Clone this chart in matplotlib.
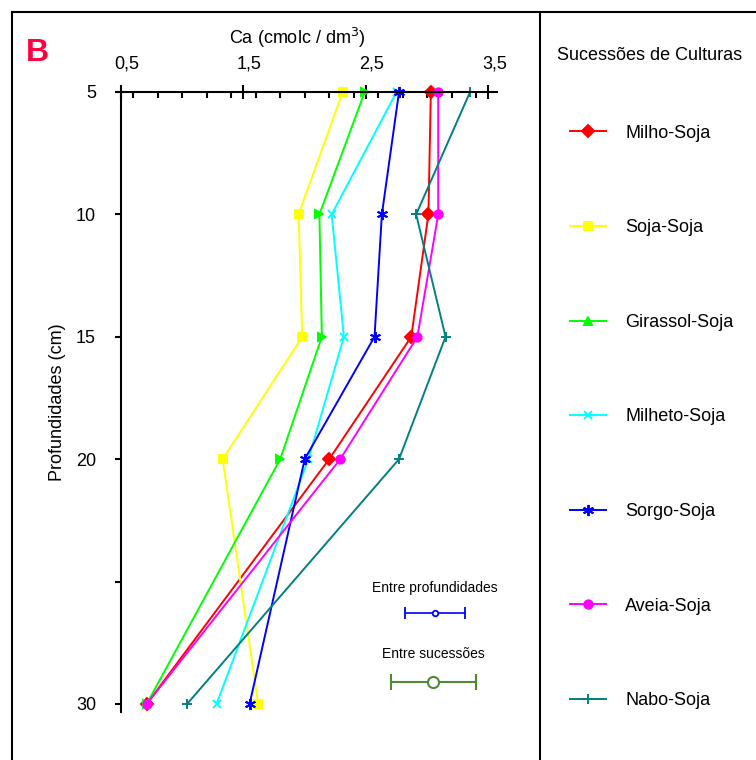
import matplotlib.pyplot as plt
from matplotlib.lines import Line2D
from matplotlib.ticker import MultipleLocator
from matplotlib.transforms import ScaledTranslation

plt.rcParams['font.family'] = ['Liberation Sans', 'DejaVu Sans']

# profundidades (cm)
depth = [5, 10, 15, 20, 30]

# Ca (cmolc / dm3) por sucessao
milho = [3.03, 3.01, 2.87, 2.20, 0.71]
soja = [2.31, 1.95, 1.98, 1.33, 1.62]
girassol = [2.49, 2.12, 2.14, 1.80, 0.71]
milheto = [2.75, 2.22, 2.32, 2.03, 1.28]
sorgo = [2.77, 2.63, 2.57, 2.00, 1.55]
aveia = [3.09, 3.09, 2.92, 2.29, 0.71]
nabo = [3.35, 2.91, 3.15, 2.77, 1.04]

names = ["Milho-Soja", "Soja-Soja", "Girassol-Soja", "Milheto-Soja",
         "Sorgo-Soja", "Aveia-Soja", "Nabo-Soja"]
series = [milho, soja, girassol, milheto, sorgo, aveia, nabo]
colors = ["#FF0000", "#FFFF00", "#00FF00", "#00FFFF", "#0000FF", "#FF00FF", "#008080"]
markers = ["D", "s", ">", "x", (6, 2, 0), "o", "+"]
leg_markers = ["D", "s", "^", "x", (6, 2, 0), "o", "+"]
sizes = [6, 6, 6, 6, 8, 6, 7]

# DMS (barras de referencia)
dms_prof = 0.245
dms_suc = 0.345

fig = plt.figure(figsize=(7.56, 7.60), dpi=100)
ax = fig.add_axes([121/756, 1 - 712/760, (497 - 121)/756, (712 - 92)/760])

for vals, c, m, s in zip(series, colors, markers, sizes):
    ax.plot(vals, depth, color=c, marker=m, lw=1.4, ms=s, mew=1.4, clip_on=False)

# barras de erro
ax.errorbar([3.06], [26.3], xerr=[dms_prof], color="#0000FF", lw=1.2, capsize=4,
            capthick=1.2, marker="o", ms=4, mfc="white", mew=1.3)
ax.errorbar([3.05], [29.1], xerr=[dms_suc], color="#4F8A3A", lw=1.5, capsize=6,
            capthick=1.5, marker="o", ms=8, mfc="white", mew=1.5)
ax.text(3.06, 25.25, "Entre profundidades", ha="center", va="center", fontsize=10,
        family=["Liberation Sans Narrow", "Liberation Sans"])
ax.text(3.05, 27.95, "Entre sucessões", ha="center", va="center", fontsize=10,
        family=["Liberation Sans Narrow", "Liberation Sans"])

ax.set_xlim(0.5, 3.57)
ax.set_ylim(30.33, 5)
ax.xaxis.tick_top()
ax.set_xticks([0.5, 1.5, 2.5, 3.5])
ax.set_xticklabels(["0,5", "1,5", "2,5", "3,5"])
ax.xaxis.set_minor_locator(MultipleLocator(0.2))
ax.set_yticks([5, 10, 15, 20, 25, 30])
ax.set_yticklabels(["5", "10", "15", "20", "", "30"])
ax.tick_params(axis="x", which="major", direction="inout", length=10, width=1.5,
               labelsize=13, pad=9)
ax.tick_params(axis="x", which="minor", direction="in", length=4.5, width=1.5)
ax.tick_params(axis="y", direction="out", length=4, width=1.5, labelsize=13, pad=14)
shift = ScaledTranslation(6/100, 0, fig.dpi_scale_trans)
for lab in ax.get_xticklabels():
    lab.set_transform(lab.get_transform() + shift)
for s in ["right", "bottom"]:
    ax.spines[s].set_visible(False)
for s in ["left", "top"]:
    ax.spines[s].set_linewidth(1.5)

fig.text(297/756, 1 - 38/760, "Ca (cmolc / dm$^3$)", ha="center", va="center", fontsize=13)
fig.text(58/756, 1 - 402/760, "Profundidades (cm)", ha="center", va="center",
         rotation=90, fontsize=13)
fig.text(37/756, 1 - 53/760, "B", ha="center", va="center", fontsize=23,
         fontweight="bold", color="#FF0040")

# quadro
fig.add_artist(Line2D([12/756, 1], [1 - 12/760, 1 - 12/760], color="black", lw=1.5))
fig.add_artist(Line2D([12/756, 12/756], [0, 1 - 12/760], color="black", lw=1.5))
fig.add_artist(Line2D([540/756, 540/756], [0, 1 - 12/760], color="black", lw=1.5))

# legenda
fig.text(650/756, 1 - 55/760, "Sucessões de Culturas", ha="center", va="center", fontsize=13)
handles = [Line2D([], [], color=c, marker=m, lw=1.4, ms=s, mew=1.4)
           for c, m, s in zip(colors, leg_markers, sizes)]
fig.legend(handles, names, loc="center left", bbox_to_anchor=(570/756, 1 - 417/760),
           frameon=False, fontsize=13, handlelength=2.0, handletextpad=1.05,
           labelspacing=4.3, borderpad=0, borderaxespad=0)

fig.savefig("out.png", dpi=100)
